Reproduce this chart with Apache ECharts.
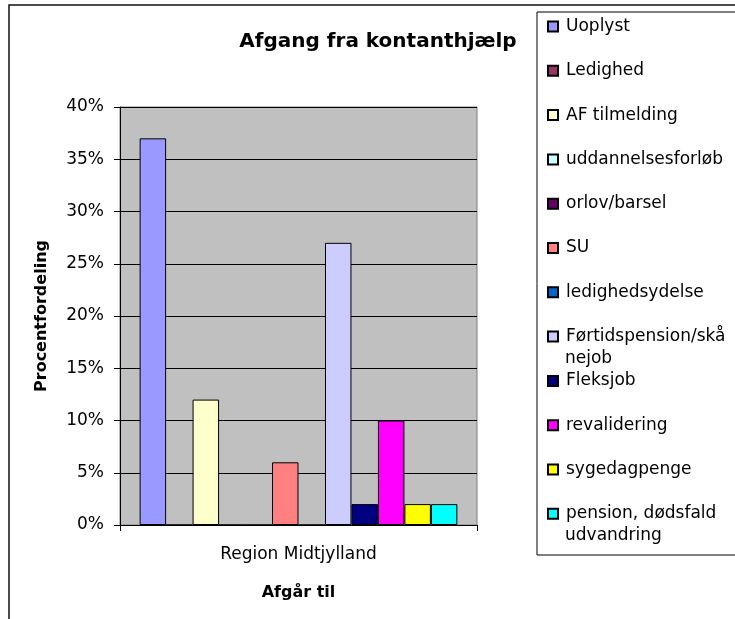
<!DOCTYPE html>
<html>
<head>
<meta charset="utf-8">
<script src="https://cdn.jsdelivr.net/npm/echarts@6/dist/echarts.min.js"></script>
<style>
  html, body { margin: 0; padding: 0; background: #fff; }
  #chart { width: 735px; height: 619px; }
</style>
</head>
<body>
<div id="chart"></div>
<script>
// categories / series
const categories = ['Region Midtjylland'];
const seriesNames = [
  'Uoplyst', 'Ledighed', 'AF tilmelding', 'uddannelsesforløb', 'orlov/barsel', 'SU',
  'ledighedsydelse', 'Førtidspension/skånejob', 'Fleksjob', 'revalidering', 'sygedagpenge',
  'pension, dødsfald udvandring'
];
// percent per series (one value per category)
const seriesValues = [37, 0, 12, 0, 0, 6, 0, 27, 2, 10, 2, 2];
const yTicks = [0, 5, 10, 15, 20, 25, 30, 35, 40];

// excel 2003 style palette
const colors = ['#9999FF', '#993366', '#FFFFCC', '#CCFFFF', '#660066', '#FF8080',
  '#0066CC', '#CCCCFF', '#000080', '#FF00FF', '#FFFF00', '#00FFFF'];

// legend wraps these names onto a second line (first part, rest)
const legendWrap = {
  'Førtidspension/skånejob': ['Førtidspension/skå', 'nejob'],
  'pension, dødsfald udvandring': ['pension, dødsfald', 'udvandring']
};

const font = 'DejaVu Sans';
const legendLeft = 547, legendTop = 16, legendStep = 44.3, legendLine = 21;

// second lines of wrapped legend names, under their entry
const wrapTexts = [];
seriesNames.forEach((name, i) => {
  if (!legendWrap[name]) return;
  wrapTexts.push({
    type: 'text',
    x: legendLeft + 18,
    y: legendTop + legendLine / 2 + i * legendStep + 22,
    silent: true,
    z: 10,
    style: { text: legendWrap[name][1], fontFamily: font, fontSize: 17, fill: '#000', verticalAlign: 'middle' }
  });
});

const chart = echarts.init(document.getElementById('chart'));

chart.setOption({
  animation: false,
  color: colors,
  textStyle: { fontFamily: font, color: '#000' },
  title: {
    text: 'Afgang fra kontanthjælp',
    left: 378,
    top: 32,
    padding: 0,
    textAlign: 'center',
    textStyle: { fontFamily: font, fontSize: 20, fontWeight: 'bold', color: '#000' }
  },
  graphic: [
    { type: 'rect', shape: { x: 9, y: 5, width: 800, height: 800 },
      style: { fill: 'none', stroke: '#111', lineWidth: 1.5 }, silent: true },
    { type: 'rect', shape: { x: 537, y: 12, width: 300, height: 543 },
      style: { fill: '#fff', stroke: '#000', lineWidth: 1 }, silent: true }
  ].concat(wrapTexts),
  legend: {
    orient: 'vertical',
    left: legendLeft,
    top: legendTop,
    padding: 0,
    icon: 'rect',
    itemWidth: 10,
    itemHeight: 10,
    itemGap: legendStep - legendLine,
    data: seriesNames,
    formatter: name => legendWrap[name] ? legendWrap[name][0] : name,
    textStyle: { fontFamily: font, fontSize: 17, color: '#000', lineHeight: legendLine, padding: [0, 0, 0, 3] }
  },
  grid: {
    left: 120,
    right: 258,
    top: 107,
    bottom: 94,
    show: true,
    backgroundColor: '#C0C0C0',
    borderColor: '#808080',
    borderWidth: 1
  },
  xAxis: {
    type: 'category',
    data: categories,
    name: 'Afgår til',
    nameLocation: 'middle',
    nameGap: 60,
    nameTextStyle: { fontFamily: font, fontSize: 16, fontWeight: 'bold', color: '#000' },
    axisLine: { lineStyle: { color: '#000', width: 1 } },
    axisTick: { show: true, length: 6, lineStyle: { color: '#000' } },
    axisLabel: { fontFamily: font, fontSize: 17, color: '#000', margin: 21 }
  },
  yAxis: {
    type: 'value',
    min: yTicks[0],
    max: yTicks[yTicks.length - 1],
    interval: yTicks[1] - yTicks[0],
    name: 'Procentfordeling',
    nameLocation: 'middle',
    nameGap: 70,
    nameTextStyle: { fontFamily: font, fontSize: 16, fontWeight: 'bold', color: '#000' },
    axisLine: { show: true, lineStyle: { color: '#000', width: 1 } },
    axisTick: { show: true, length: 6, lineStyle: { color: '#000' } },
    splitLine: { lineStyle: { color: '#000', width: 1 } },
    axisLabel: { fontFamily: font, fontSize: 17, color: '#000', margin: 16, formatter: '{value}%' }
  },
  series: seriesNames.map((name, i) => ({
    name: name,
    type: 'bar',
    barGap: '0%',
    barCategoryGap: '11%',
    itemStyle: { borderColor: '#000', borderWidth: 1 },
    data: [seriesValues[i]]
  }))
});
</script>
</body>
</html>
